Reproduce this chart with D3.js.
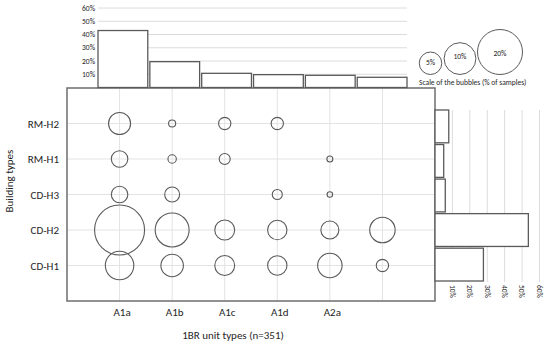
<!DOCTYPE html>
<html>
<head>
<meta charset="utf-8">
<script src="https://cdn.jsdelivr.net/npm/d3@7"></script>
<style>
  body { margin: 0; background: #fff; }
  text { font-family: Carlito, Lato, "Open Sans", sans-serif; fill: #262626; }
</style>
</head>
<body>
<script>
// 1BR unit types (columns) - the last column has no label in the source
var unitTypes = ["A1a", "A1b", "A1c", "A1d", "A2a", ""];
// building types, bottom to top
var buildingTypes = ["CD-H1", "CD-H2", "CD-H3", "RM-H1", "RM-H2"];

// share of samples (%) per unit type (top bars)
var unitShare = [43, 19.5, 10.7, 9.7, 9.2, 7.7];
// share of samples (%) per building type (right bars)
var buildingShare = [27.8, 53.6, 5.9, 5.0, 7.9];

// bubble values (% of samples), one row per building type, one column per unit type
var cdH1 = [8.0, 5.0, 3.9, 3.7, 5.9, 1.5];
var cdH2 = [24.7, 11.4, 3.9, 3.7, 3.2, 6.4];
var cdH3 = [2.7, 2.2, 0, 1.0, 0.3, 0];
var rmH1 = [2.7, 0.7, 1.2, 0, 0.35, 0];
var rmH2 = [4.8, 0.5, 1.5, 1.5, 0, 0];
var bubbleRows = [cdH1, cdH2, cdH3, rmH1, rmH2];

var barTicks = [10, 20, 30, 40, 50, 60];
var legendValues = [5, 10, 20];

var svgWidth = 550;
var svgHeight = 345;

var svg = d3.select("body")
  .append("svg")
  .attr("width", svgWidth)
  .attr("height", svgHeight);

var lineColor = "#5a5a5a";
var gridColor = "#e3e3e3";

// main bubble area
var box = { left: 67, right: 435, top: 88, bottom: 301 };
var xMain = d3.scaleLinear().domain([0, 7]).range([box.left, box.right]);
var yMain = d3.scaleLinear().domain([0, 6]).range([box.bottom, box.top]);
var rScale = d3.scaleSqrt().domain([0, 20]).range([0, 22.5]);

var main = svg.append("g");

// gridlines
main.selectAll(".vgrid")
  .data(unitTypes)
  .enter()
  .append("line")
  .attr("x1", (d, i) => xMain(i + 1))
  .attr("x2", (d, i) => xMain(i + 1))
  .attr("y1", box.top)
  .attr("y2", box.bottom)
  .attr("stroke", gridColor);

main.selectAll(".hgrid")
  .data(buildingTypes)
  .enter()
  .append("line")
  .attr("x1", box.left)
  .attr("x2", box.right)
  .attr("y1", (d, i) => yMain(i + 1))
  .attr("y2", (d, i) => yMain(i + 1))
  .attr("stroke", gridColor);

// bubbles
var cells = [];
bubbleRows.forEach(function(row, r) {
  row.forEach(function(v, c) {
    if (v > 0) cells.push({ row: r, col: c, value: v });
  });
});

main.selectAll("circle")
  .data(cells)
  .enter()
  .append("circle")
  .attr("cx", d => xMain(d.col + 1))
  .attr("cy", d => yMain(d.row + 1))
  .attr("r", d => rScale(d.value))
  .attr("fill", "none")
  .attr("stroke", lineColor)
  .attr("stroke-width", 1.1);

// frame
main.append("rect")
  .attr("x", box.left)
  .attr("y", box.top)
  .attr("width", box.right - box.left)
  .attr("height", box.bottom - box.top)
  .attr("fill", "none")
  .attr("stroke", "#6e6e6e")
  .attr("stroke-width", 1.5);

// axis labels
var leftAxis = d3.axisLeft(d3.scalePoint().domain(d3.range(1, 6)).range([yMain(1), yMain(5)]))
  .tickSize(0)
  .tickPadding(0)
  .tickFormat(d => buildingTypes[d - 1]);
var yAxis = svg.append("g")
  .attr("transform", "translate(59,0)")
  .call(leftAxis);
yAxis.select(".domain").remove();
yAxis.selectAll("text")
  .style("font-family", "Carlito, Lato, sans-serif")
  .attr("font-size", 11)
  .attr("fill", "#262626");

var bottomAxis = d3.axisBottom(d3.scalePoint().domain(d3.range(1, 7)).range([xMain(1), xMain(6)]))
  .tickSize(0)
  .tickPadding(0)
  .tickFormat(d => unitTypes[d - 1]);
var xAxis = svg.append("g")
  .attr("transform", "translate(2,308)")
  .call(bottomAxis);
xAxis.select(".domain").remove();
xAxis.selectAll("text")
  .style("font-family", "Carlito, Lato, sans-serif")
  .attr("font-size", 11)
  .attr("fill", "#262626");

svg.append("text")
  .attr("x", 233)
  .attr("y", 339)
  .attr("text-anchor", "middle")
  .attr("font-size", 11)
  .text("1BR unit types (n=351)");

svg.append("text")
  .attr("transform", "translate(13,181) rotate(-90)")
  .attr("text-anchor", "middle")
  .attr("font-size", 11)
  .text("Building types");

// top bar chart
var xTop = d3.scaleBand().domain(unitTypes.map((d, i) => i)).range([98, 407]).paddingInner(0.04);
var yTop = d3.scaleLinear().domain([0, 60]).range([87.5, 8]);
var topChart = svg.append("g");

topChart.selectAll(".grid")
  .data(barTicks)
  .enter()
  .append("line")
  .attr("x1", 98)
  .attr("x2", 407)
  .attr("y1", d => yTop(d))
  .attr("y2", d => yTop(d))
  .attr("stroke", "#dcdcdc");

topChart.selectAll(".tick-label")
  .data(barTicks)
  .enter()
  .append("text")
  .attr("x", 95)
  .attr("y", d => yTop(d) + 2.6)
  .attr("text-anchor", "end")
  .attr("font-size", 7.5)
  .attr("fill", "#595959")
  .text(d => d + "%");

topChart.selectAll("rect")
  .data(unitShare)
  .enter()
  .append("rect")
  .attr("x", (d, i) => xTop(i))
  .attr("y", d => yTop(d))
  .attr("width", xTop.bandwidth())
  .attr("height", d => yTop(0) - yTop(d))
  .attr("fill", "#fff")
  .attr("stroke", lineColor)
  .attr("stroke-width", 1.3);

// right bar chart
var xRight = d3.scaleLinear().domain([0, 60]).range([435, 539.5]);
var yRight = d3.scaleBand().domain(buildingTypes.slice().reverse()).range([110, 281]).paddingInner(0.05);
var rightChart = svg.append("g");

rightChart.selectAll(".grid")
  .data(barTicks)
  .enter()
  .append("line")
  .attr("x1", d => xRight(d))
  .attr("x2", d => xRight(d))
  .attr("y1", 110)
  .attr("y2", 282)
  .attr("stroke", "#dcdcdc");

rightChart.selectAll(".tick-label")
  .data(barTicks)
  .enter()
  .append("text")
  .attr("transform", d => "translate(" + (xRight(d) - 2.6) + ",285) rotate(90)")
  .attr("font-size", 7.5)
  .attr("fill", "#595959")
  .text(d => d + "%");

rightChart.selectAll("rect")
  .data(buildingShare)
  .enter()
  .append("rect")
  .attr("x", xRight(0))
  .attr("y", (d, i) => yRight(buildingTypes[i]))
  .attr("width", d => xRight(d) - xRight(0))
  .attr("height", yRight.bandwidth())
  .attr("fill", "#fff")
  .attr("stroke", lineColor)
  .attr("stroke-width", 1.3);

// bubble scale legend
var legend = svg.append("g");
var legendX = [430.5, 460, 500];
var legendBase = 74.5;

legend.selectAll("circle")
  .data(legendValues)
  .enter()
  .append("circle")
  .attr("cx", (d, i) => legendX[i])
  .attr("cy", d => legendBase - rScale(d))
  .attr("r", d => rScale(d))
  .attr("fill", "none")
  .attr("stroke", lineColor)
  .attr("stroke-width", 1);

legend.selectAll("text.val")
  .data(legendValues)
  .enter()
  .append("text")
  .attr("x", (d, i) => legendX[i])
  .attr("y", (d, i) => [64.5, 59, 56][i])
  .attr("text-anchor", "middle")
  .attr("font-size", 7.5)
  .text(d => d + "%");

legend.append("text")
  .attr("x", 419)
  .attr("y", 84.5)
  .attr("font-size", 7.5)
  .text("Scale of the bubbles (% of samples)");
</script>
</body>
</html>
